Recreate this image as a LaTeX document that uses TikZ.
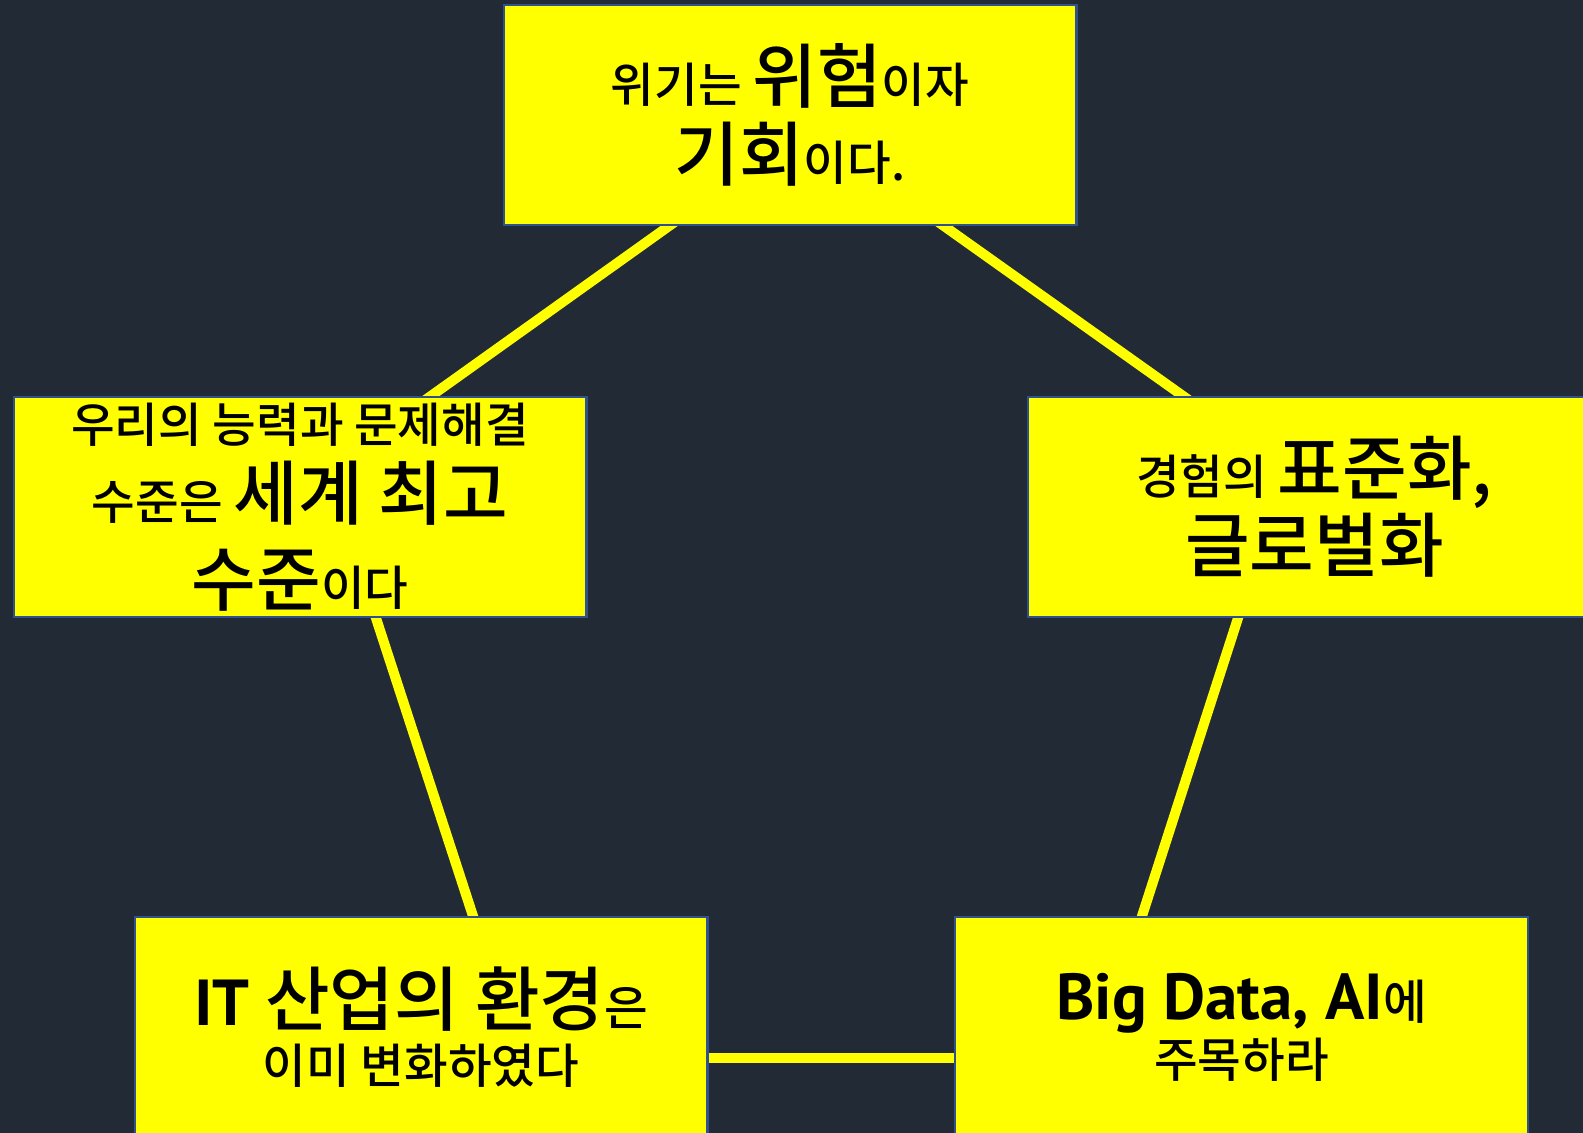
\documentclass[tikz,border=0pt]{standalone}
\usepackage{fontspec}
\setmainfont{Noto Sans CJK KR}[BoldFont={Noto Sans CJK KR Medium}]
\newfontfamily\latinfont{PT Sans}
\usetikzlibrary{backgrounds}
\definecolor{slidebg}{HTML}{222A35}
\definecolor{boxline}{HTML}{2F528F}
\definecolor{hiyellow}{HTML}{FFFF00}
\tikzstyle{card} = [draw=boxline, line width=1.2pt, fill=hiyellow, minimum width=11.46cm, minimum height=4.4cm, align=center, inner sep=0pt, font=\bfseries\fontsize{27}{44}\selectfont]
\tikzstyle{tightcard} = [card, font=\bfseries\fontsize{27}{33}\selectfont]
\tikzstyle{link} = [hiyellow, line width=0.2cm, shorten <=-0.15cm, shorten >=-0.15cm]
\newcommand{\bigword}[1]{{\fontsize{40}{44}\selectfont #1}}
\newcommand{\latinword}[1]{{\latinfont\fontsize{37}{44}\selectfont #1}}

\begin{document}
\begin{tikzpicture}[x=0.02cm, y=-0.02cm]
        \useasboundingbox (0,0) rectangle (1583,1133);

        %five boxes
        \node at (790,115) [card] (risk) {위기는 \bigword{위험}이자\\ \bigword{기회}이다.};
        \node at (300,507) [card] (ability) {우리의 능력과 문제해결\\ 수준은 \bigword{세계 최고}\\[5pt] \bigword{수준}이다};
        \node at (1314.5,507) [card] (standard) {경험의 \bigword{표준화,}\\ \bigword{글로벌화}};
        \node at (421,1027) [tightcard] (change) {\latinword{IT}\bigword{\ 산업의 환경}은\\ 이미 변화하였다};
        \node at (1241.5,1027) [tightcard] (focus) {\latinword{Big Data, AI}에\\ 주목하라};

        %background and links
        \begin{scope}[on background layer]
        \fill [slidebg] (0,0) rectangle (1583,1133);
        \draw [link] ([xshift=-2.42cm]risk.south) -- ([xshift=2.62cm]ability.north);
        \draw [link] ([xshift=3.08cm]risk.south) -- ([xshift=-2.63cm]standard.north);
        \draw [link] ([xshift=1.52cm]ability.south) -- ([xshift=1.04cm]change.north);
        \draw [link] ([xshift=-1.53cm]standard.south) -- ([xshift=-1.99cm]focus.north);
        \draw [link] ([yshift=-0.62cm]change.east) -- ([yshift=-0.62cm]focus.west);
        \end{scope}

    \end{tikzpicture}
\end{document}
